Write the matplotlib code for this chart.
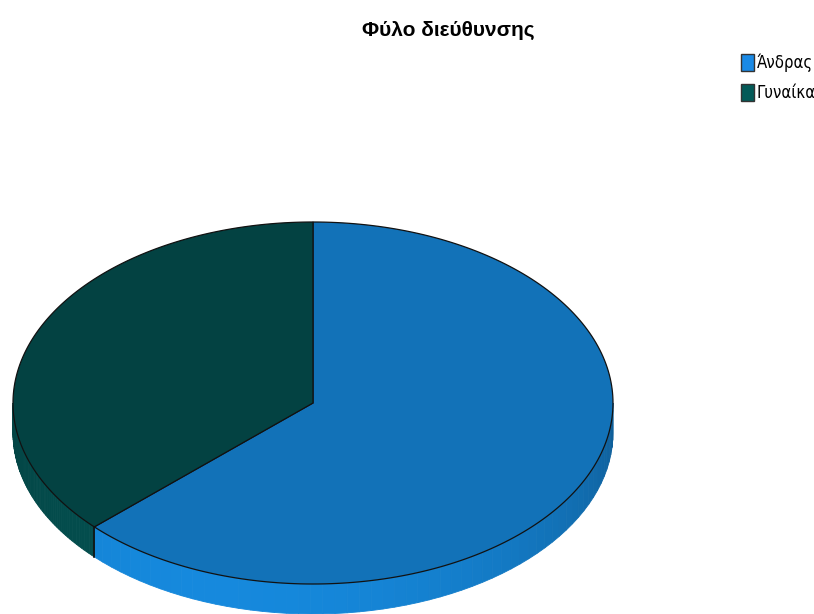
import numpy as np
import matplotlib.pyplot as plt
from matplotlib.patches import Polygon, Patch
from matplotlib.colors import to_rgb

labels = ["Άνδρας", "Γυναίκα"]
values = [63, 37]
top_colors = ["#1272b8", "#034242"]
legend_colors = ["#1a8ae6", "#035a58"]

fig = plt.figure(figsize=(8.14, 6.14), dpi=100)
ax = fig.add_axes([0, 0, 1, 1])
ax.set_xlim(0, 814)
ax.set_ylim(614, 0)
ax.axis("off")

# ellipse geometry of the pie (pixel units)
cx, cy, rx, ry, depth = 313, 403, 300, 181, 30


def pt(t):
    r = np.radians(t)
    return cx + rx * np.cos(r), cy - ry * np.sin(r)


# slice angles, start at 12 o'clock, clockwise
fracs = np.array(values) / sum(values)
ends = 90 - 360 * np.cumsum(fracs)
starts = np.concatenate([[90], ends[:-1]])


def shade(col, t):
    c = np.array(to_rgb(col))
    k = 0.92 + 0.28 * np.cos(np.radians(t + 110))
    return tuple(np.clip(c * k, 0, 1))


# front sides (only the part of the rim with angle in [-180, 0] is visible)
for s, e, col in zip(starts, ends, top_colors):
    for off in (0, 360):
        lo, hi = max(e + off, -180), min(s + off, 0)
        if hi <= lo:
            continue
        ts = np.linspace(lo, hi, 60)
        for t0, t1 in zip(ts[:-1], ts[1:]):
            x0, y0 = pt(t0)
            x1, y1 = pt(t1)
            c = shade(col, (t0 + t1) / 2)
            ax.add_patch(Polygon([(x0, y0), (x1, y1), (x1, y1 + depth), (x0, y0 + depth)],
                                 closed=True, fc=c, ec=c, lw=0.6, zorder=1))

# top face
for s, e, col in zip(starts, ends, top_colors):
    ts = np.linspace(s, e, 200)
    xy = [(cx, cy)] + [pt(t) for t in ts]
    ax.add_patch(Polygon(xy, closed=True, fc=col, ec="#111111", lw=0.9, zorder=2))

# vertical edge at the cut in front
xc, yc = pt(ends[0])
ax.plot([xc, xc], [yc, yc + depth], color="#111111", lw=1.2, zorder=3)

fig.text(448 / 814, 1 - 30 / 614, "Φύλο διεύθυνσης", ha="center", va="center",
         fontsize=15, fontweight="bold", family=["Liberation Sans", "DejaVu Sans"])

handles = [Patch(fc=c, ec="#333333", lw=1) for c in legend_colors]
fig.legend(handles, labels, loc="upper left", bbox_to_anchor=(729 / 814, 1 - 42 / 614),
           frameon=False,
           prop={"family": "DejaVu Sans", "stretch": "condensed", "size": 12},
           handlelength=0.8, handleheight=1.2, handletextpad=0.15, labelspacing=0.7,
           borderpad=0.2)

fig.savefig("out.png", dpi=100)
